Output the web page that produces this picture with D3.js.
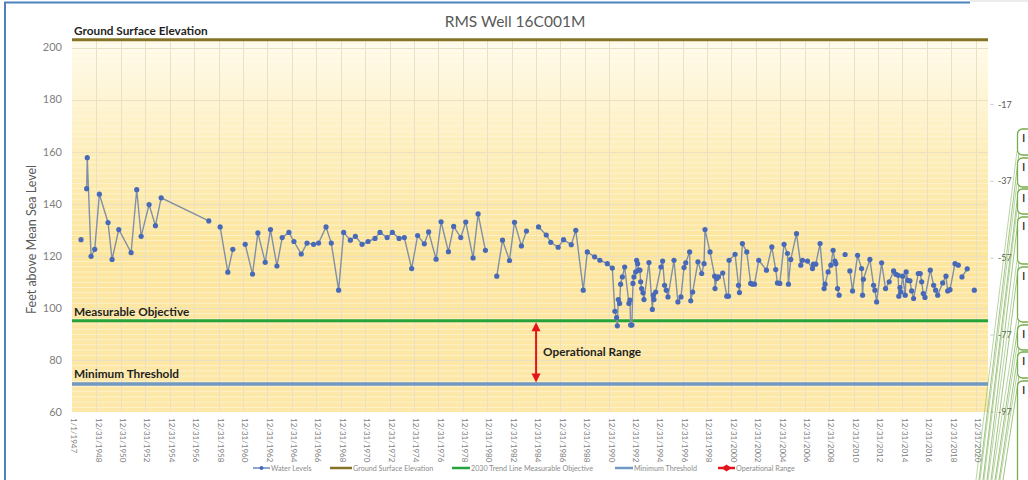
<!DOCTYPE html>
<html>
<head>
<meta charset="utf-8">
<script src="https://cdn.jsdelivr.net/npm/d3@7"></script>
<style>
  body { margin: 0; background: #fff; }
  svg { display: block; font-family: Lato, "Open Sans", sans-serif; }
</style>
</head>
<body>
<div id="chart"></div>
<script>
const chartTitle = "RMS Well 16C001M";
const yAxisTitle = "Feet above Mean Sea Level";

// decimal years, null value = gap in the record
const levelYears = [
  1947.74, 1948.0,
  1948.20, 1948.25, 1948.56, 1948.86, 1949.24, 1949.95, 1950.28, 1950.83, 1951.84, 1952.30,
  1952.66, 1953.31, 1953.83, 1954.30, 1958.20, 1958.7,
  1959.13, 1959.76, 1960.17, 1960.7,
  1961.18, 1961.78, 1962.22, 1962.82, 1963.25, 1963.78, 1964.21, 1964.76, 1965.17, 1965.77,
  1966.24, 1966.78, 1967.19, 1967.80, 1968.23, 1968.83, 1969.24, 1969.79, 1970.20, 1970.75,
  1971.24, 1971.81, 1972.22, 1972.80, 1973.23, 1973.78, 1974.21, 1974.81, 1975.30, 1975.85,
  1976.20, 1976.81, 1977.22, 1977.82, 1978.25, 1978.83, 1979.24, 1979.84, 1980.25, 1980.85, 1981.3,
  1981.78, 1982.25, 1982.82, 1983.23, 1983.80, 1984.21, 1984.7,
  1985.20, 1985.83, 1986.20, 1986.81, 1987.25, 1987.88, 1988.25, 1988.86, 1989.19, 1989.79,
  1990.22, 1990.83, 1991.24, 1991.45, 1991.59, 1991.65, 1991.73, 1991.84, 1991.92, 1992.06,
  1992.25, 1992.60, 1992.68, 1992.74, 1992.84, 1992.93, 1993.01, 1993.15, 1993.23, 1993.31,
  1993.39, 1993.50, 1993.56, 1993.64, 1993.75, 1993.83, 1994.24, 1994.52, 1994.60, 1994.65,
  1994.79, 1995.22, 1995.36, 1995.52, 1995.66, 1995.80, 1996.29, 1996.61, 1996.86, 1997.11,
  1997.25, 1997.57, 1997.66, 1997.82, 1998.25, 1998.56, 1998.75, 1998.83, 1999.24, 1999.62,
  1999.65, 1999.79, 1999.93, 2000.28, 2000.61, 2000.75, 2000.80, 2001.29, 2001.57, 2001.65,
  2001.89, 2002.25, 2002.57, 2002.71, 2002.88, 2003.23, 2003.86, 2004.30, 2004.62, 2004.76,
  2004.95, 2005.30, 2005.58, 2005.66, 2005.85, 2006.32, 2006.67, 2006.81, 2007.22, 2007.63,
  2007.71, 2007.90, 2008.25, 2008.58, 2008.66, 2008.91, 2009.13, 2009.32, 2009.46, 2009.54,
  2009.68, 2009.81, 2010.0,
  2010.30, 2010.5,
  2010.69, 2010.91, 2011.32, 2011.65, 2011.73, 2011.80, 2012.33, 2012.63, 2012.74, 2012.88,
  2013.29, 2013.61, 2013.91, 2014.27, 2014.46, 2014.65, 2014.70, 2014.79, 2014.87, 2015.01,
  2015.22, 2015.30, 2015.44, 2015.61, 2015.75, 2015.91, 2016.29, 2016.45, 2016.57, 2016.70,
  2016.84, 2017.27, 2017.55, 2017.71, 2017.88, 2018.29, 2018.56, 2018.70, 2018.89, 2019.30,
  2019.57, 2019.7,
  2019.87, 2020.30, 2020.6,
  2020.88
];
const levelValues = [
  126.2, null,
  145.8, 157.7, 119.8, 122.5, 143.7, 132.8, 118.6, 130.1, 121.2, 145.4,
  127.5, 139.7, 131.6, 142.3, 133.4, null,
  131.1, 113.7, 122.5, null,
  124.4, 113.0, 128.8, 117.5, 130.1, 116.1, 127.0, 129.0, 125.5, 120.7,
  124.9, 124.4, 124.9, 131.1, 124.9, 106.8, 129.0, 126.0, 127.5, 124.4,
  125.5, 126.7, 129.0, 127.0, 129.0, 126.7, 127.0, 115.1, 127.8, 124.6,
  129.2, 118.7, 133.1, 121.6, 131.3, 127.0, 133.0, 119.2, 136.1, 122.1, null,
  112.2, 126.0, 118.2, 132.9, 123.8, 129.5, null,
  131.1, 128.0, 125.2, 123.3, 126.2, 124.3, 129.8, 106.8, 121.5, 119.6,
  118.3, 117.0, 115.3, 98.7, 96.3, 93.1, 103.2, 101.7, 109.1, 111.9,
  115.7, 101.7, 103.0, 93.4, 93.4, 109.4, 111.9, 113.8, 118.3, 117.0,
  114.5, 114.5, 110.0, 107.4, 105.8, 103.2, 117.4, 99.4, 104.9, 103.2,
  106.1, 115.7, 118.0, 108.7, 106.8, 104.2, 118.3, 102.3, 104.2, 115.5,
  117.3, 121.5, 102.7, 106.1, 117.7, 113.2, 117.0, 130.1, 121.5, 112.2,
  107.4, 111.3, 111.9, 113.4, 104.5, 104.5, 118.3, 120.6, 108.7, 105.9,
  124.7, 121.5, 109.4, 109.1, 109.1, 118.3, 114.5, 123.4, 114.7, 109.6,
  109.4, 124.4, 120.9, 109.1, 118.6, 128.5, 116.4, 118.3, 118.0, 115.1,
  116.8, 116.8, 124.7, 107.4, 109.1, 113.8, 116.4, 122.1, 118.0, 117.0,
  107.4, 104.9, null,
  120.5, null,
  114.2, 106.5, 120.2, 115.1, 104.9, 111.0, 118.6, 108.7, 106.8, 102.3,
  117.3, 107.4, 110.0, 114.2, 112.9, 112.5, 104.5, 107.8, 106.1, 112.2,
  104.9, 113.8, 110.6, 110.4, 106.5, 103.6, 113.2, 113.2, 110.0, 105.5,
  104.0, 114.5, 108.7, 106.8, 104.9, 109.6, 112.2, 106.5, 107.0, 117.0,
  116.4, null,
  111.9, 115.0, null,
  106.8
];

const groundSurface = 203;
const measurableObjective = 95.1;
const minimumThreshold = 70.8;
const operationalRangeDate = "12/31/1984";

const yTicks = [60, 80, 100, 120, 140, 160, 180, 200];
const rightTicks = [-17, -37, -57, -77, -97];
const xTickLabels = [
  "1/1/1947", "12/31/1948", "12/31/1950", "12/31/1952", "12/31/1954", "12/31/1956",
  "12/31/1958", "12/31/1960", "12/31/1962", "12/31/1964", "12/31/1966", "12/31/1968",
  "12/31/1970", "12/31/1972", "12/31/1974", "12/31/1976", "12/31/1978", "12/31/1980",
  "12/31/1982", "12/31/1984", "12/31/1986", "12/31/1988", "12/31/1990", "12/31/1992",
  "12/31/1994", "12/31/1996", "12/31/1998", "12/31/2000", "12/31/2002", "12/31/2004",
  "12/31/2006", "12/31/2008", "12/31/2010", "12/31/2012", "12/31/2014", "12/31/2016",
  "12/31/2018", "12/31/2020"
];
const legendLabels = [
  "Water Levels", "Ground Surface Elevation", "2030 Trend Line Measurable Objective",
  "Minimum Threshold", "Operational Range"
];
const calloutChars = ["I", "I", "I", "I", "I", "I", "I", "I"];

class WellChart {
  constructor(_config) {
    this.config = {
      parentElement: _config.parentElement,
      width: 1028,
      height: 480,
      plot: { left: 72, right: 988, top: 39, bottom: 412 },
      colors: {
        line: "#8090a6", marker: "#4769b8", ground: "#857327",
        objective: "#27a33b", threshold: "#7099c4", range: "#e3141b",
        grid: "#ebe0c4", text: "#595959", tick: "#808080", callout: "#77ad4c"
      },
      legendX: [253, 330, 452, 615, 718],
      legendW: [17, 22, 18, 18, 17],
      callouts: [[129, 155], [158, 187], [189, 214], [217, 264], [267, 322], [325, 350], [352, 378], [381, 492]],
      leaderEnds: [979, 983, 987, 991, 995, 999, 1003, 1008]
    };
    this.parseTick = d3.timeParse("%m/%d/%Y");
    this.initVis();
  }

  yearToDate(y) {
    const yr = Math.floor(y);
    const start = new Date(yr, 0, 1), end = new Date(yr + 1, 0, 1);
    return new Date(+start + (y - yr) * (end - start));
  }

  initVis() {
    let vis = this;
    const c = vis.config, p = c.plot;

    vis.svg = d3.select(c.parentElement).append("svg")
      .attr("width", c.width)
      .attr("height", c.height);

    vis.x = d3.scaleTime()
      .domain([new Date(1947, 0, 1), new Date(2022, 0, 1)])
      .range([p.left, p.right]);
    vis.y = d3.scaleLinear().domain([60, 203.3]).range([p.bottom, p.top]);
    vis.yRight = d3.scaleLinear().domain([-97, 0]).range([p.bottom, p.top]);

    vis.data = levelYears.map((yr, i) => ({ date: vis.yearToDate(yr), value: levelValues[i] }));

    // plot background
    const grad = vis.svg.append("defs").append("linearGradient")
      .attr("id", "plotBg").attr("x1", 0).attr("y1", 0).attr("x2", 0).attr("y2", 1);
    [[0, "#fffcef"], [0.3, "#fdeebb"], [0.55, "#fce59d"], [1, "#fde8a9"]].forEach(s => {
      grad.append("stop").attr("offset", s[0]).attr("stop-color", s[1]);
    });
    vis.svg.append("rect")
      .attr("x", p.left).attr("y", p.top)
      .attr("width", p.right - p.left).attr("height", p.bottom - p.top)
      .attr("fill", "url(#plotBg)");

    // minor horizontal gridlines
    vis.svg.append("g").selectAll("line")
      .data(d3.range(62, 203, 2).filter(v => v % 20 !== 0))
      .join("line")
      .attr("x1", p.left).attr("x2", p.right)
      .attr("y1", d => vis.y(d) + 0.5).attr("y2", d => vis.y(d) + 0.5)
      .attr("stroke", "#fff6dc").attr("stroke-opacity", 0.7);

    // major gridlines
    vis.svg.append("g").selectAll("line")
      .data(yTicks.slice(1))
      .join("line")
      .attr("x1", p.left).attr("x2", p.right)
      .attr("y1", d => Math.round(vis.y(d)) + 0.5).attr("y2", d => Math.round(vis.y(d)) + 0.5)
      .attr("stroke", c.colors.grid);

    vis.svg.append("g").selectAll("line")
      .data(xTickLabels.slice(1))
      .join("line")
      .attr("x1", d => Math.round(vis.x(vis.parseTick(d))) + 0.5)
      .attr("x2", d => Math.round(vis.x(vis.parseTick(d))) + 0.5)
      .attr("y1", p.top).attr("y2", p.bottom)
      .attr("stroke", c.colors.grid);

    // y axis labels
    vis.svg.append("g").selectAll("text")
      .data(yTicks)
      .join("text")
      .attr("x", 62).attr("y", d => vis.y(d)).attr("dy", "0.35em")
      .attr("text-anchor", "end")
      .attr("font-size", 11).attr("fill", c.colors.tick)
      .text(d => d);

    // x axis labels, rotated
    vis.svg.append("g").selectAll("text")
      .data(xTickLabels)
      .join("text")
      .attr("transform", d => `translate(${vis.x(vis.parseTick(d)) + 2},${p.bottom + 6}) rotate(90)`)
      .attr("dy", "0.35em")
      .attr("font-size", 8).attr("fill", c.colors.tick)
      .text(d => d);

    // right axis
    const right = vis.svg.append("g");
    right.selectAll("line")
      .data(rightTicks)
      .join("line")
      .attr("x1", p.right + 2).attr("x2", p.right + 6)
      .attr("y1", d => vis.yRight(d)).attr("y2", d => vis.yRight(d))
      .attr("stroke", "#d0d0d0");
    right.selectAll("text")
      .data(rightTicks)
      .join("text")
      .attr("x", p.right + 10).attr("y", d => vis.yRight(d)).attr("dy", "0.35em")
      .attr("font-size", 9).attr("fill", c.colors.text)
      .text(d => d);

    // reference lines
    const refs = [
      { v: groundSurface, color: c.colors.ground, w: 3 },
      { v: measurableObjective, color: c.colors.objective, w: 3 },
      { v: minimumThreshold, color: c.colors.threshold, w: 3.5 }
    ];
    vis.svg.append("g").selectAll("line")
      .data(refs)
      .join("line")
      .attr("x1", p.left).attr("x2", p.right)
      .attr("y1", d => vis.y(d.v)).attr("y2", d => vis.y(d.v))
      .attr("stroke", d => d.color).attr("stroke-width", d => d.w);

    // reference labels
    const refLabels = [
      { text: "Ground Surface Elevation", v: groundSurface, dy: -4.5 },
      { text: "Measurable Objective", v: measurableObjective, dy: -5 },
      { text: "Minimum Threshold", v: minimumThreshold, dy: -5.5 }
    ];
    vis.svg.append("g").selectAll("text")
      .data(refLabels)
      .join("text")
      .attr("x", p.left + 2).attr("y", d => vis.y(d.v) + d.dy)
      .attr("font-size", 11.8).attr("font-weight", "bold").attr("fill", "#1f1f1f")
      .text(d => d.text);

    // operational range arrow
    const ax = vis.x(vis.parseTick(operationalRangeDate));
    const yTop = vis.y(measurableObjective) + 1.5, yBot = vis.y(minimumThreshold) - 1.5;
    const arrow = vis.svg.append("g").attr("fill", c.colors.range);
    arrow.append("line")
      .attr("x1", ax).attr("x2", ax).attr("y1", yTop + 6).attr("y2", yBot - 6)
      .attr("stroke", c.colors.range).attr("stroke-width", 2);
    arrow.append("path").attr("d", `M${ax},${yTop} L${ax - 4.5},${yTop + 9} L${ax + 4.5},${yTop + 9} Z`);
    arrow.append("path").attr("d", `M${ax},${yBot} L${ax - 4.5},${yBot - 9} L${ax + 4.5},${yBot - 9} Z`);
    vis.svg.append("text")
      .attr("x", ax + 7).attr("y", (yTop + yBot) / 2 + 4)
      .attr("font-size", 11.8).attr("font-weight", "bold").attr("fill", "#1f1f1f")
      .text("Operational Range");

    // water levels
    const line = d3.line()
      .defined(d => d.value != null)
      .x(d => vis.x(d.date))
      .y(d => vis.y(d.value));
    vis.svg.append("path")
      .datum(vis.data)
      .attr("d", line)
      .attr("fill", "none")
      .attr("stroke", c.colors.line)
      .attr("stroke-width", 1.4);
    vis.svg.append("g").selectAll("circle")
      .data(vis.data.filter(d => d.value != null))
      .join("circle")
      .attr("cx", d => vis.x(d.date))
      .attr("cy", d => vis.y(d.value))
      .attr("r", 2.6)
      .attr("fill", c.colors.marker);

    // title + axis title
    vis.svg.append("text")
      .attr("x", 515).attr("y", 27)
      .attr("text-anchor", "middle")
      .attr("font-size", 15.5).attr("fill", c.colors.text)
      .text(chartTitle);
    vis.svg.append("text")
      .attr("transform", `translate(36,${(p.top + p.bottom) / 2 + 14}) rotate(-90)`)
      .attr("text-anchor", "middle")
      .attr("font-size", 12.5).attr("fill", c.colors.text)
      .text(yAxisTitle);

    vis.renderLegend();
    vis.renderCallouts();

    // selection frame of the chart object
    vis.svg.append("line")
      .attr("x1", 4).attr("x2", 970).attr("y1", 2.5).attr("y2", 2.5)
      .attr("stroke", "#4f81bd").attr("stroke-width", 2);
    vis.svg.append("line")
      .attr("x1", 970).attr("x2", c.width).attr("y1", 1).attr("y2", 1)
      .attr("stroke", "#d9d9d9").attr("stroke-width", 1);
    vis.svg.append("line")
      .attr("x1", 5).attr("x2", 5).attr("y1", 2).attr("y2", c.height)
      .attr("stroke", "#4f81bd").attr("stroke-width", 2);
  }

  renderLegend() {
    let vis = this;
    const c = vis.config;
    const colors = [c.colors.marker, c.colors.ground, c.colors.objective, c.colors.threshold, c.colors.range];
    const ly = 468;
    const items = vis.svg.append("g").selectAll("g")
      .data(legendLabels)
      .join("g")
      .attr("transform", (d, i) => `translate(${c.legendX[i]},${ly})`);
    items.append("line")
      .attr("x1", 0).attr("x2", (d, i) => c.legendW[i])
      .attr("stroke", (d, i) => colors[i])
      .attr("stroke-width", (d, i) => i === 0 ? 1.2 : 2.5);
    items.filter((d, i) => i === 0).append("circle")
      .attr("cx", c.legendW[0] / 2).attr("r", 2).attr("fill", colors[0]);
    items.filter((d, i) => i === 4).append("path")
      .attr("d", `M${c.legendW[4] / 2 - 5},0 L${c.legendW[4] / 2},-3.5 L${c.legendW[4] / 2 + 5},0 L${c.legendW[4] / 2},3.5 Z`)
      .attr("fill", colors[4]);
    items.append("text")
      .attr("x", (d, i) => c.legendW[i] + 1).attr("dy", "0.35em")
      .attr("font-size", 7.2).attr("fill", "#8c8c8c")
      .text(d => d);
  }

  renderCallouts() {
    let vis = this;
    const c = vis.config;
    const g = vis.svg.append("g");
    g.selectAll("line")
      .data(c.callouts)
      .join("line")
      .attr("x1", 1019).attr("y1", d => d[1] - 2)
      .attr("x2", (d, i) => c.leaderEnds[i]).attr("y2", c.height)
      .attr("stroke", c.colors.callout).attr("stroke-width", 0.7);
    g.selectAll("line.b")
      .data(c.callouts)
      .join("line")
      .attr("class", "b")
      .attr("x1", 1017).attr("y1", d => d[1] - 4)
      .attr("x2", (d, i) => c.leaderEnds[i] - 3).attr("y2", c.height)
      .attr("stroke", c.colors.callout).attr("stroke-width", 0.5);
    g.selectAll("rect")
      .data(c.callouts)
      .join("rect")
      .attr("x", 1017.5).attr("y", d => d[0])
      .attr("width", 30).attr("height", d => d[1] - d[0])
      .attr("rx", 5)
      .attr("fill", "#fff").attr("stroke", c.colors.callout).attr("stroke-width", 1.3);
    g.selectAll("text")
      .data(calloutChars)
      .join("text")
      .attr("x", 1022).attr("y", (d, i) => c.callouts[i][0] + 13)
      .attr("font-size", 12).attr("fill", "#222")
      .text(d => d);
  }
}

new WellChart({ parentElement: "#chart" });
</script>
</body>
</html>
